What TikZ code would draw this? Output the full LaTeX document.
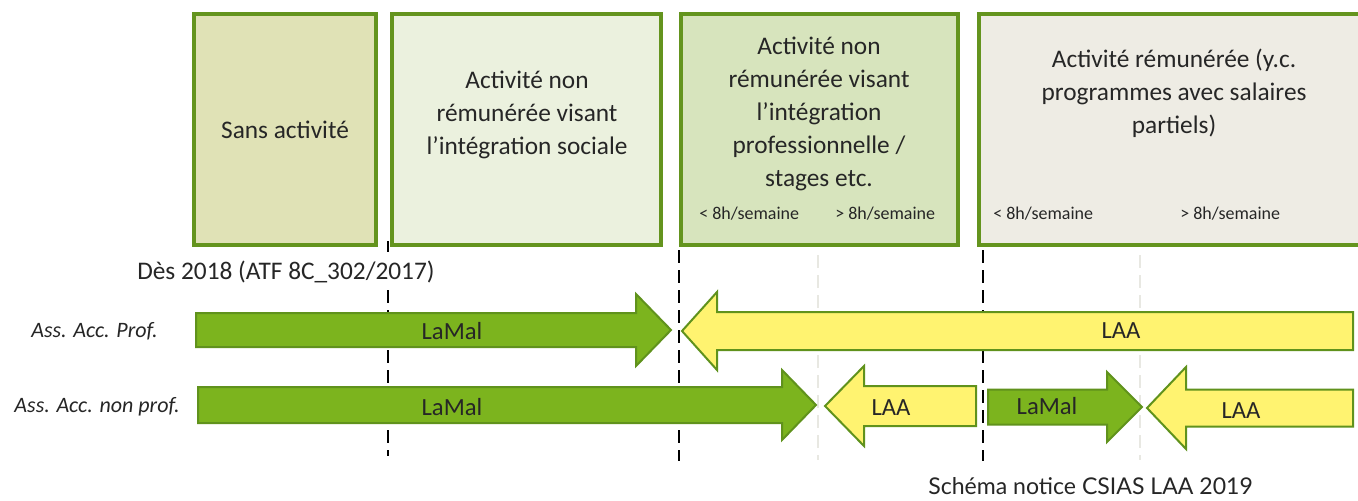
\documentclass[tikz,border=0pt]{standalone}
\usepackage{fontspec}
\setmainfont{Carlito}
\newfontfamily\capfont{Lato}
\definecolor{boxborder}{RGB}{100,148,30}
\definecolor{fillA}{RGB}{224,226,182}
\definecolor{fillB}{RGB}{235,241,222}
\definecolor{fillC}{RGB}{215,228,189}
\definecolor{fillD}{RGB}{238,236,228}
\definecolor{arrgreen}{RGB}{124,180,30}
\definecolor{arrborder}{RGB}{96,146,28}
\definecolor{arryellow}{RGB}{255,243,112}
\definecolor{txt}{RGB}{38,38,38}
\definecolor{lightdash}{RGB}{232,232,226}
\tikzset{
  catbox/.style={draw=boxborder, line width=2.3pt},
  boxtext/.style={text=txt, align=center, font=\fontsize{19}{24.75}\selectfont, inner sep=0pt},
  smalltext/.style={text=txt, font=\fontsize{13.5}{16}\selectfont, inner sep=0pt},
  rowlabel/.style={text=txt, font=\itshape\fontsize{16.5}{20}\selectfont, inner sep=0pt, anchor=east},
  arrtext/.style={text=black!85, font=\fontsize{18.5}{22}\selectfont, inner sep=0pt},
  greenarr/.style={fill=arrgreen, draw=arrborder, line width=1.5pt, line join=miter},
  yellowarr/.style={fill=arryellow, draw=arrborder, line width=1.5pt, line join=miter},
  blackdash/.style={draw=black, line width=2.2pt, dash pattern=on 10pt off 5pt},
  greydash/.style={draw=lightdash, line width=2pt, dash pattern=on 10pt off 5pt},
}
% right-pointing: tail x, head base x, tip x, centre y, shaft half, head half
\newcommand{\RArr}[7]{\path[#1] (#2,#5-#6) -- (#3,#5-#6) -- (#3,#5-#7) -- (#4,#5) -- (#3,#5+#7) -- (#3,#5+#6) -- (#2,#5+#6) -- cycle;}
% left-pointing: tip x, head base x, end x, centre y, shaft half, head half
\newcommand{\LArr}[7]{\path[#1] (#2,#5) -- (#3,#5-#7) -- (#3,#5-#6) -- (#4,#5-#6) -- (#4,#5+#6) -- (#3,#5+#6) -- (#3,#5+#7) -- cycle;}
\begin{document}
\begin{tikzpicture}[x=0.75pt, y=-0.75pt]
\useasboundingbox (0,0) rectangle (1358,500);
\fill[white] (0,0) rectangle (1358,500);

% dashed separators
\draw[greydash] (818,255) -- (818,460);
\draw[greydash] (1140,255) -- (1140,460);
\coordinate (d1t) at (388,290); \coordinate (d1b) at (388,456);
\coordinate (d1a) at (388,241); \coordinate (d1c) at (388,252);
\coordinate (d2t) at (679,250); \coordinate (d2b) at (679,461);
\coordinate (d3t) at (983,250); \coordinate (d3b) at (983,461);
\draw[draw=black, line width=2.2pt] (d1a) -- (d1c);
\draw[blackdash] (d1t) -- (d1b);
\draw[blackdash] (d2t) -- (d2b);
\draw[blackdash] (d3t) -- (d3b);

% category boxes
\draw[catbox, fill=fillA] (194,14) rectangle (376,245);
\draw[catbox, fill=fillB] (392,14) rectangle (661,245);
\draw[catbox, fill=fillC] (681,14) rectangle (958,245);
\draw[catbox, fill=fillD] (979,14) rectangle (1372,245);

\node[boxtext] (t1) at (285,130) {Sans activité};
\node[boxtext] (t2) at (527,115) {Activité non\\rémunérée visant\\l’intégration sociale};
\node[boxtext] (t3) at (819,114) {Activité non\\rémunérée visant\\l’intégration\\professionnelle /\\stages etc.};
\node[boxtext] (t4) at (1174,93) {Activité rémunérée (y.c.\\programmes avec salaires\\partiels)};
\node[smalltext, anchor=west] (s1) at (699,214) {< 8h/semaine};
\node[smalltext, anchor=west] (s2) at (835,214) {> 8h/semaine};
\node[smalltext, anchor=west] (s3) at (993,214) {< 8h/semaine};
\node[smalltext, anchor=west] (s4) at (1180,214) {> 8h/semaine};

\node[boxtext, anchor=west] (des) at (137,272) {Dès 2018 (ATF 8C\_302/2017)};

\node[rowlabel] (r1) at (158,331) {Ass. Acc. Prof.};
\node[rowlabel] (r2) at (180,407) {Ass. Acc. non prof.};

% row 1
\RArr{greenarr}{196}{636}{671}{330}{17}{36}
\LArr{yellowarr}{682}{717}{1353}{331}{19}{39}
\node[arrtext] (a1) at (452,331) {LaMal};
\node[arrtext] (a2) at (1121,331) {LAA};

% row 2
\RArr{greenarr}{198}{782}{816}{405}{18}{35}
\LArr{yellowarr}{825}{864}{976}{406}{20}{40}
\RArr{greenarr}{988}{1107}{1142}{407}{17.5}{35}
\LArr{yellowarr}{1147}{1186}{1353}{408}{18.5}{41}
\node[arrtext] (b1) at (452,407) {LaMal};
\node[arrtext] (b2) at (891,408) {LAA};
\node[arrtext] (b3) at (1047,406) {LaMal};
\node[arrtext] (b4) at (1241,411) {LAA};

\node[text=txt, font=\capfont\fontsize{17.3}{20}\selectfont, inner sep=0pt, anchor=west] (cap) at (928,486) {Schéma notice CSIAS LAA 2019};
\end{tikzpicture}
\end{document}
